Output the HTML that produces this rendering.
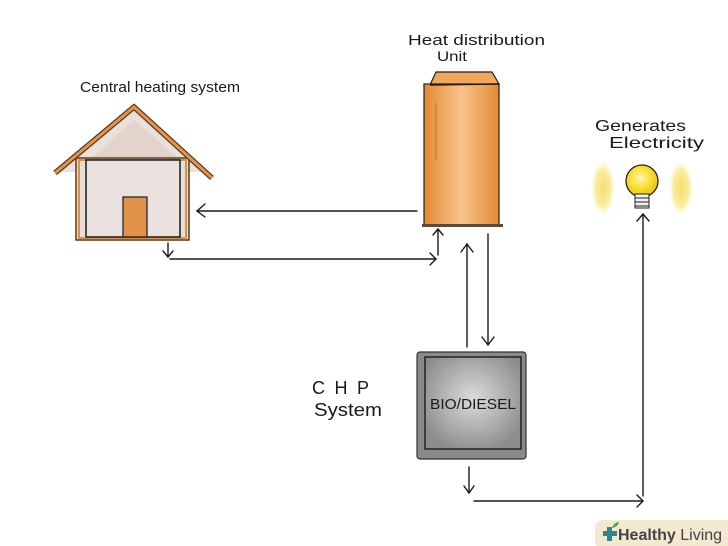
<!DOCTYPE html>
<html><head><meta charset="utf-8"><style>
html,body{margin:0;padding:0;background:#fff;}
svg{display:block;}
text{font-family:"Liberation Sans",sans-serif;fill:#1a1a1a;}
</style></head><body>
<svg width="728" height="546" viewBox="0 0 728 546" xmlns="http://www.w3.org/2000/svg">
<defs>
<linearGradient id="og" x1="0" x2="1" y1="0" y2="0">
<stop offset="0" stop-color="#e48a34"/>
<stop offset="0.5" stop-color="#f8c48c"/>
<stop offset="1" stop-color="#e48a34"/>
</linearGradient>
<radialGradient id="gg" cx="0.5" cy="0.45" r="0.6">
<stop offset="0" stop-color="#dcdcdc"/>
<stop offset="1" stop-color="#8c8c8c"/>
</radialGradient>
<radialGradient id="bulb" cx="0.45" cy="0.4" r="0.6">
<stop offset="0" stop-color="#fff6b0"/>
<stop offset="0.6" stop-color="#f7dc2a"/>
<stop offset="1" stop-color="#eec00f"/>
</radialGradient>
<radialGradient id="glow" cx="0.5" cy="0.5" r="0.5">
<stop offset="0" stop-color="#f6e070"/>
<stop offset="0.6" stop-color="#f9ec9e"/>
<stop offset="1" stop-color="#ffffff" stop-opacity="0"/>
</radialGradient>
</defs>

<!-- House -->
<polygon points="134,110 60,172 76,172 76,240 189,240 189,172 208,172" fill="#e9e0da"/>
<polygon points="134,120 90,160 180,160" fill="#e2d4cb"/>
<rect x="76" y="158" width="113" height="82" fill="#e7ded8" stroke="#5a3a1a" stroke-width="1.5"/>
<rect x="79" y="160" width="107" height="78" fill="none" stroke="#d99050" stroke-width="2"/>
<rect x="86" y="160" width="94" height="77" fill="#e8e1dd" stroke="#1a1a1a" stroke-width="1.5"/>
<rect x="123" y="197" width="24" height="40" fill="#e0914a" stroke="#1a1a1a" stroke-width="1.2"/>
<polyline points="55,173 134,107 212,178" fill="none" stroke="#5a3a1a" stroke-width="5.5" stroke-linejoin="miter"/>
<polyline points="55,173 134,107 212,178" fill="none" stroke="#e0944e" stroke-width="3" stroke-linejoin="miter"/>
<text x="80" y="92" font-size="15" textLength="160" lengthAdjust="spacingAndGlyphs">Central heating system</text>

<!-- Heat distribution unit -->
<polygon points="430,85 436,72 492,72 499,84" fill="#f0a860" stroke="#2a1a0a" stroke-width="1.2"/>
<rect x="424" y="84" width="75" height="141" fill="url(#og)" stroke="#2a1a0a" stroke-width="1.2"/>
<line x1="430" y1="85" x2="499" y2="84" stroke="#2a1a0a" stroke-width="1.5"/>
<line x1="436" y1="103" x2="436" y2="160" stroke="#c07030" stroke-width="1"/>
<rect x="422" y="224" width="81" height="3" fill="#5a4a3a"/>
<text x="408" y="45" font-size="15" textLength="137" lengthAdjust="spacingAndGlyphs">Heat distribution</text>
<text x="437" y="61" font-size="14" textLength="30" lengthAdjust="spacingAndGlyphs">Unit</text>

<!-- Arrows -->
<g stroke="#1a1a1a" stroke-width="1.4" fill="none" stroke-linecap="round">
<line x1="417" y1="211" x2="197" y2="211"/>
<polyline points="205,204 197,211 205,217"/>
<line x1="168" y1="243" x2="168" y2="257"/>
<polyline points="163,251 168,257 173,251"/>
<line x1="170" y1="259" x2="436" y2="259"/>
<polyline points="430,253 436,259 430,265"/>
<line x1="438" y1="255" x2="438" y2="229"/>
<polyline points="433,235 438,229 443,235"/>
<line x1="467" y1="347" x2="467" y2="244"/>
<polyline points="461,252 467,244 473,252"/>
<line x1="488" y1="234" x2="488" y2="345"/>
<polyline points="482,337 488,345 494,337"/>
<line x1="469" y1="467" x2="469" y2="493"/>
<polyline points="464,486 469,493 474,486"/>
<line x1="474" y1="501" x2="643" y2="501"/>
<polyline points="637,495 643,501 637,507"/>
<line x1="643" y1="496" x2="643" y2="214"/>
<polyline points="637,221 643,214 649,221"/>
</g>

<!-- CHP box -->
<rect x="417" y="352" width="109" height="107" rx="3" fill="#8a8a8a" stroke="#333" stroke-width="1.2"/>
<rect x="425" y="357" width="96" height="92" fill="url(#gg)" stroke="#222" stroke-width="1.5"/>
<text x="473" y="409" font-size="15" text-anchor="middle" textLength="86" lengthAdjust="spacingAndGlyphs">BIO/DIESEL</text>
<text x="312" y="394" font-size="18" textLength="57" lengthAdjust="spacing">CHP</text>
<text x="314" y="416" font-size="18" textLength="68" lengthAdjust="spacingAndGlyphs">System</text>

<!-- Bulb -->
<ellipse cx="603" cy="188" rx="13" ry="30" fill="url(#glow)"/>
<ellipse cx="681" cy="188" rx="13" ry="30" fill="url(#glow)"/>
<circle cx="642" cy="181" r="16" fill="url(#bulb)" stroke="#222" stroke-width="1.3"/>
<rect x="635" y="194" width="14" height="14" fill="#f0f0f0" stroke="#222" stroke-width="1"/>
<line x1="635" y1="198" x2="649" y2="198" stroke="#222" stroke-width="1"/>
<line x1="635" y1="202" x2="649" y2="202" stroke="#222" stroke-width="1"/>
<line x1="635" y1="206" x2="649" y2="206" stroke="#222" stroke-width="1"/>
<text x="595" y="131" font-size="16" textLength="91" lengthAdjust="spacingAndGlyphs">Generates</text>
<text x="609" y="148" font-size="16" textLength="95" lengthAdjust="spacingAndGlyphs">Electricity</text>

<!-- Logo -->
<rect x="595" y="520" width="140" height="30" rx="8" fill="#f3e8d0"/>
<rect x="603" y="531" width="14" height="5" fill="#2a8a8a"/>
<rect x="607" y="527" width="5" height="14" fill="#2a8a8a"/>
<path d="M612,528 q2,-6 7,-6 q-1,5 -7,6z" fill="#5aa040"/>
<text x="618" y="540" font-size="16" style="fill:#444"><tspan font-weight="bold">Healthy</tspan> Living</text>
</svg>
</body></html>
